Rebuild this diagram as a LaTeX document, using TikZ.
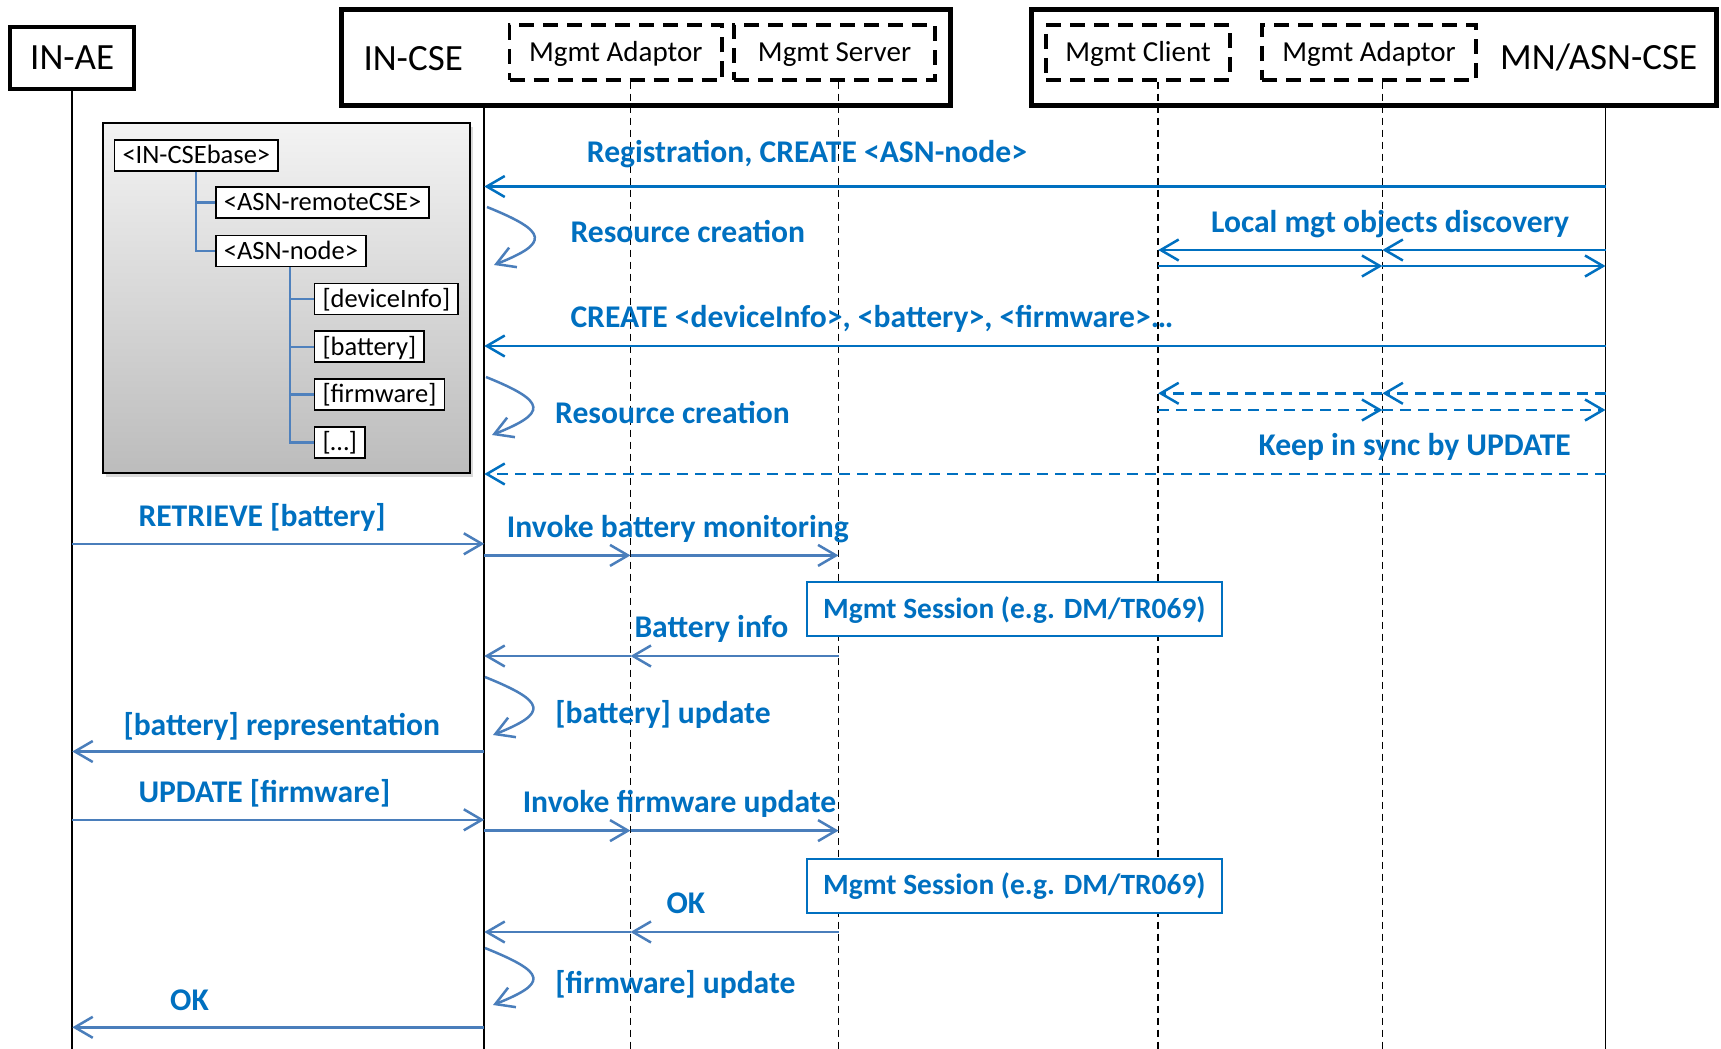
\documentclass[tikz,border=0pt]{standalone}
\usepackage{fontspec}
\setmainfont{Carlito}
\usetikzlibrary{arrows.meta,shadows}
\definecolor{msgblue}{HTML}{0070C0}
\definecolor{steel}{HTML}{4A7EBB}
\definecolor{treeblue}{HTML}{4F81BD}
\begin{document}
\begin{tikzpicture}[x=1pt,y=-1pt,
  every node/.style={inner sep=0pt},
  actorbox/.style={draw=black, line width=4pt, minimum width=123.7pt, minimum height=62pt,
    font=\fontsize{37}{44}\selectfont, text height=23.8pt, text depth=0pt},
  partbox/.style={draw=black, line width=5pt, minimum height=95.8pt},
  partname/.style={anchor=base west, font=\fontsize{37}{44}\selectfont},
  subbox/.style={draw=black, line width=3.3pt, dash pattern=on 15pt off 9pt, minimum height=55pt,
    font=\fontsize{29}{34}\selectfont, text height=18.7pt, text depth=0pt},
  life/.style={draw=black, line width=1.8pt},
  sublife/.style={draw=black, line width=1.8pt, dash pattern=on 7pt off 5pt},
  treebox/.style={draw=black, line width=2pt, top color={rgb,255:red,243;green,243;blue,243},
    bottom color={rgb,255:red,188;green,188;blue,188},
    drop shadow={opacity=0.3, shadow xshift=3pt, shadow yshift=-4pt}},
  treenode/.style={draw=black, line width=1.8pt, fill=white, anchor=north west, inner xsep=8pt,
    minimum height=31pt, font=\fontsize{26.5}{30}\selectfont, text height=17.1pt, text depth=0pt},
  treeline/.style={draw=treeblue, line width=2.2pt},
  msgA/.style={draw=msgblue, line width=2.5pt, -{Straight Barb[length=18pt,width=21pt]}},
  msgD/.style={msgA, dash pattern=on 11pt off 7pt},
  msgB/.style={draw=steel, line width=2.5pt, -{Straight Barb[length=18pt,width=21pt]}},
  selfloop/.style={draw=steel, line width=2.5pt, -{Straight Barb[length=18pt,width=21pt]}},
  lbl/.style={anchor=base west, text=msgblue, font=\bfseries\fontsize{31.6}{36}\selectfont},
  sessbox/.style={draw=msgblue, line width=2pt, fill=white, minimum width=415pt, minimum height=54pt,
    text=msgblue, font=\bfseries\fontsize{29.4}{34}\selectfont, text height=18.9pt, text depth=0pt}
]
\useasboundingbox (0,0) rectangle (1721,1049);
\coordinate (bottom) at (0,1049);

% lifeline positions
\coordinate (xAE) at (72.3,0);
\coordinate (xCSE) at (484.3,0);
\coordinate (xAD1) at (630.5,0);
\coordinate (xSRV) at (838.5,0);
\coordinate (xCLI) at (1158.2,0);
\coordinate (xAD2) at (1382.4,0);
\coordinate (xMN) at (1605.5,0);

% participants
\node[actorbox] (ae) at (72.2,58) {IN-AE};
\node[partbox, minimum width=608.2pt] (incse) at (645.9,57.9) {};
\node[partname] (incsename) at (363.3,70.7) {IN-CSE};
\node[subbox, minimum width=212.5pt] (inadapt) at (615.8,52.5) {Mgmt Adaptor};
\node[subbox, minimum width=201pt] (inserver) at (834.5,52.5) {Mgmt Server};
\node[partbox, minimum width=685.5pt] (mncse) at (1373.8,57.9) {};
\node[partname] (mncsename) at (1500,70) {MN/ASN-CSE};
\node[subbox, minimum width=184pt] (mnclient) at (1138,52.5) {Mgmt Client};
\node[subbox, minimum width=214pt] (mnadapt) at (1369,52.5) {Mgmt Adaptor};

% lifelines
\draw[life] (ae.south) -- (ae.south |- bottom);
\draw[life] (xCSE |- incse.south) -- (xCSE |- bottom);
\draw[life] (xMN |- mncse.south) -- (xMN |- bottom);
\draw[sublife] (xAD1 |- inadapt.south) -- (xAD1 |- bottom);
\draw[sublife] (xSRV |- inserver.south) -- (xSRV |- bottom);
\draw[sublife] (xCLI |- mnclient.south) -- (xCLI |- bottom);
\draw[sublife] (xAD2 |- mnadapt.south) -- (xAD2 |- bottom);

% resource tree
\node[treebox, minimum width=367pt, minimum height=350.3pt] (tree) at (286.2,297.8) {};
\node[treenode] (base) at (113.6,139) {<IN-CSEbase>};
\node[treenode] (remote) at (215,186) {<ASN-remoteCSE>};
\node[treenode] (asnnode) at (215,234.6) {<ASN-node>};
\node[treenode] (devinfo) at (313.6,282.6) {[deviceInfo]};
\node[treenode] (battery) at (313.6,330.2) {[battery]};
\node[treenode] (firmware) at (313.6,378) {[firmware]};
\node[treenode] (more) at (313.6,426) {[…]};
\coordinate (tA) at (196,0);
\coordinate (tB) at (290,0);
\draw[treeline] (tA |- base.south) |- (remote.west);
\draw[treeline] (tA |- base.south) |- (asnnode.west);
\draw[treeline] (tB |- asnnode.south) |- (devinfo.west);
\draw[treeline] (tB |- asnnode.south) |- (battery.west);
\draw[treeline] (tB |- asnnode.south) |- (firmware.west);
\draw[treeline] (tB |- asnnode.south) |- (more.west);

% message rows
\coordinate (rReg) at (0,186.5);
\coordinate (rLoc1) at (0,250);
\coordinate (rLoc2) at (0,266);
\coordinate (rCre) at (0,346);
\coordinate (rDs1) at (0,393.3);
\coordinate (rDs2) at (0,410);
\coordinate (rKeep) at (0,474);
\coordinate (rRet) at (0,543.8);
\coordinate (rInvB) at (0,555.4);
\coordinate (rBat) at (0,656);
\coordinate (rRep) at (0,751.5);
\coordinate (rUpd) at (0,819.8);
\coordinate (rInvF) at (0,830.6);
\coordinate (rOK1) at (0,932);
\coordinate (rOK2) at (0,1027.3);

% registration and discovery
\draw[msgA] (xMN |- rReg) -- (xCSE |- rReg);
\draw[msgA] (xMN |- rLoc1) -- (xAD2 |- rLoc1);
\draw[msgA] (xAD2 |- rLoc1) -- (xCLI |- rLoc1);
\draw[msgA] (xCLI |- rLoc2) -- (xAD2 |- rLoc2);
\draw[msgA] (xAD2 |- rLoc2) -- (xMN |- rLoc2);
\draw[msgA] (xMN |- rCre) -- (xCSE |- rCre);
\draw[msgD] (xMN |- rDs1) -- (xAD2 |- rDs1);
\draw[msgD] (xAD2 |- rDs1) -- (xCLI |- rDs1);
\draw[msgD] (xCLI |- rDs2) -- (xAD2 |- rDs2);
\draw[msgD] (xAD2 |- rDs2) -- (xMN |- rDs2);
\draw[msgD] (xMN |- rKeep) -- (xCSE |- rKeep);

% battery and firmware exchanges
\draw[msgB] (xAE |- rRet) -- (xCSE |- rRet);
\draw[msgB] (xCSE |- rInvB) -- (xAD1 |- rInvB);
\draw[msgB] (xAD1 |- rInvB) -- (xSRV |- rInvB);
\draw[msgB] (xSRV |- rBat) -- (xAD1 |- rBat);
\draw[msgB] (xAD1 |- rBat) -- (xCSE |- rBat);
\draw[msgB] (xCSE |- rRep) -- (xAE |- rRep);
\draw[msgB] (xAE |- rUpd) -- (xCSE |- rUpd);
\draw[msgB] (xCSE |- rInvF) -- (xAD1 |- rInvF);
\draw[msgB] (xAD1 |- rInvF) -- (xSRV |- rInvF);
\draw[msgB] (xSRV |- rOK1) -- (xAD1 |- rOK1);
\draw[msgB] (xAD1 |- rOK1) -- (xCSE |- rOK1);
\draw[msgB] (xCSE |- rOK2) -- (xAE |- rOK2);

% local processing loops on IN-CSE
\coordinate (lp1s) at (487,207);   \coordinate (lp1e) at (494,265);
\coordinate (lp2s) at (486,377);   \coordinate (lp2e) at (492,435);
\coordinate (lp3s) at (485,677);   \coordinate (lp3e) at (493,735);
\coordinate (lp4s) at (485,948);   \coordinate (lp4e) at (493,1005);
\draw[selfloop] (lp1s) .. controls +(62,25) and +(55,-22) .. (lp1e);
\draw[selfloop] (lp2s) .. controls +(62,25) and +(55,-22) .. (lp2e);
\draw[selfloop] (lp3s) .. controls +(62,25) and +(55,-22) .. (lp3e);
\draw[selfloop] (lp4s) .. controls +(62,25) and +(55,-22) .. (lp4e);

% management sessions
\node[sessbox] (sess1) at (1014.4,609) {Mgmt Session (e.g. DM/TR069)};
\node[sessbox] (sess2) at (1014.4,885.5) {Mgmt Session (e.g. DM/TR069)};

% message labels
\node[lbl] (tReg) at (586.7,162) {Registration, CREATE <ASN-node>};
\node[lbl] (tRc1) at (570.3,242) {Resource creation};
\node[lbl] (tLoc) at (1210.9,232) {Local mgt objects discovery};
\node[lbl] (tCre) at (570.3,327) {CREATE <deviceInfo>, <battery>, <firmware>…};
\node[lbl] (tRc2) at (555,423.5) {Resource creation};
\node[lbl] (tKeep) at (1258.4,455.5) {Keep in sync by UPDATE};
\node[lbl] (tRet) at (138.3,526.4) {RETRIEVE [battery]};
\node[lbl] (tInvB) at (506.7,537) {Invoke battery monitoring};
\node[lbl] (tBat) at (634.3,637) {Battery info};
\node[lbl] (tBUpd) at (555.2,723) {[battery] update};
\node[lbl] (tRep) at (123.3,735) {[battery] representation};
\node[lbl] (tUpd) at (138.3,802.5) {UPDATE [firmware]};
\node[lbl] (tInvF) at (522.6,812) {Invoke firmware update};
\node[lbl] (tOK1) at (666.4,913.5) {OK};
\node[lbl] (tFUpd) at (555.2,993) {[firmware] update};
\node[lbl] (tOK2) at (170,1010) {OK};
\end{tikzpicture}
\end{document}
